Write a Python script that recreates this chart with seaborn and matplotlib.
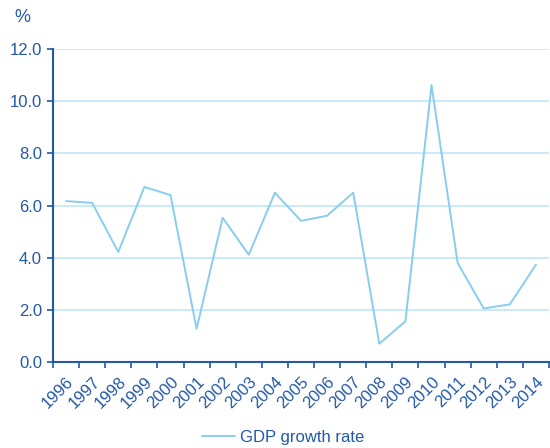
import numpy as np
import pandas as pd
import matplotlib.pyplot as plt
import seaborn as sns
from matplotlib.ticker import FixedLocator

sns.set_theme(style="white")
plt.rcParams['font.family'] = ['Liberation Sans', 'DejaVu Sans']

years = [str(y) for y in range(1996, 2015)]
gdp_growth = [6.17, 6.10, 4.22, 6.71, 6.40, 1.27, 5.53, 4.11, 6.49, 5.41,
              5.61, 6.49, 0.70, 1.56, 10.62, 3.80, 2.05, 2.21, 3.73]

df = pd.DataFrame({"year": years, "gdp": gdp_growth})

dark_blue = "#2358a8"
line_blue = "#88cdf0"
grid_blue = "#c6e8f8"

fig = plt.figure(figsize=(5.5, 4.48), dpi=100)
ax = fig.add_axes([53 / 550, 1 - 362 / 448, 496 / 550, 313 / 448])

sns.lineplot(data=df, x="year", y="gdp", ax=ax, color=line_blue,
             linewidth=1.4, label="GDP growth rate", legend=False)

ax.set_xlim(-0.5, len(years) - 0.5)
ax.set_ylim(0, 12)
ax.set_yticks(np.arange(0, 12.1, 2))
ax.set_yticklabels([f"{v:.1f}" for v in np.arange(0, 12.1, 2)])
ax.yaxis.grid(True, color=grid_blue, linewidth=1.3)
ax.xaxis.grid(False)
ax.set_axisbelow(True)

ax.set_xticks(range(len(years)))
ax.set_xticklabels(years, rotation=45, ha="right", rotation_mode="anchor")
ax.xaxis.set_minor_locator(FixedLocator(np.arange(-0.5, len(years), 1)))
ax.tick_params(axis="x", which="major", length=0, pad=9,
               labelsize=12, labelcolor=dark_blue)
ax.tick_params(axis="x", which="minor", length=4, width=1.2,
               color=dark_blue, direction="out", bottom=True)
ax.tick_params(axis="y", length=4, width=1.2, color=dark_blue,
               direction="out", left=True, labelsize=12, labelcolor=dark_blue, pad=4)

for side in ["top", "right"]:
    ax.spines[side].set_visible(False)
for side in ["left", "bottom"]:
    ax.spines[side].set_color(dark_blue)
    ax.spines[side].set_linewidth(1.5)

ax.set_xlabel("")
ax.set_ylabel("")
fig.text(14 / 550, 1 - 18 / 448, "%", color=dark_blue, fontsize=13,
         va="center", ha="left")

handles, labels = ax.get_legend_handles_labels()
fig.legend(handles, labels, loc="center", bbox_to_anchor=(283 / 550, 1 - 437 / 448),
           frameon=False, fontsize=12, labelcolor=dark_blue,
           handlelength=2.0, handletextpad=0.3)

fig.savefig("out.png", dpi=100)
